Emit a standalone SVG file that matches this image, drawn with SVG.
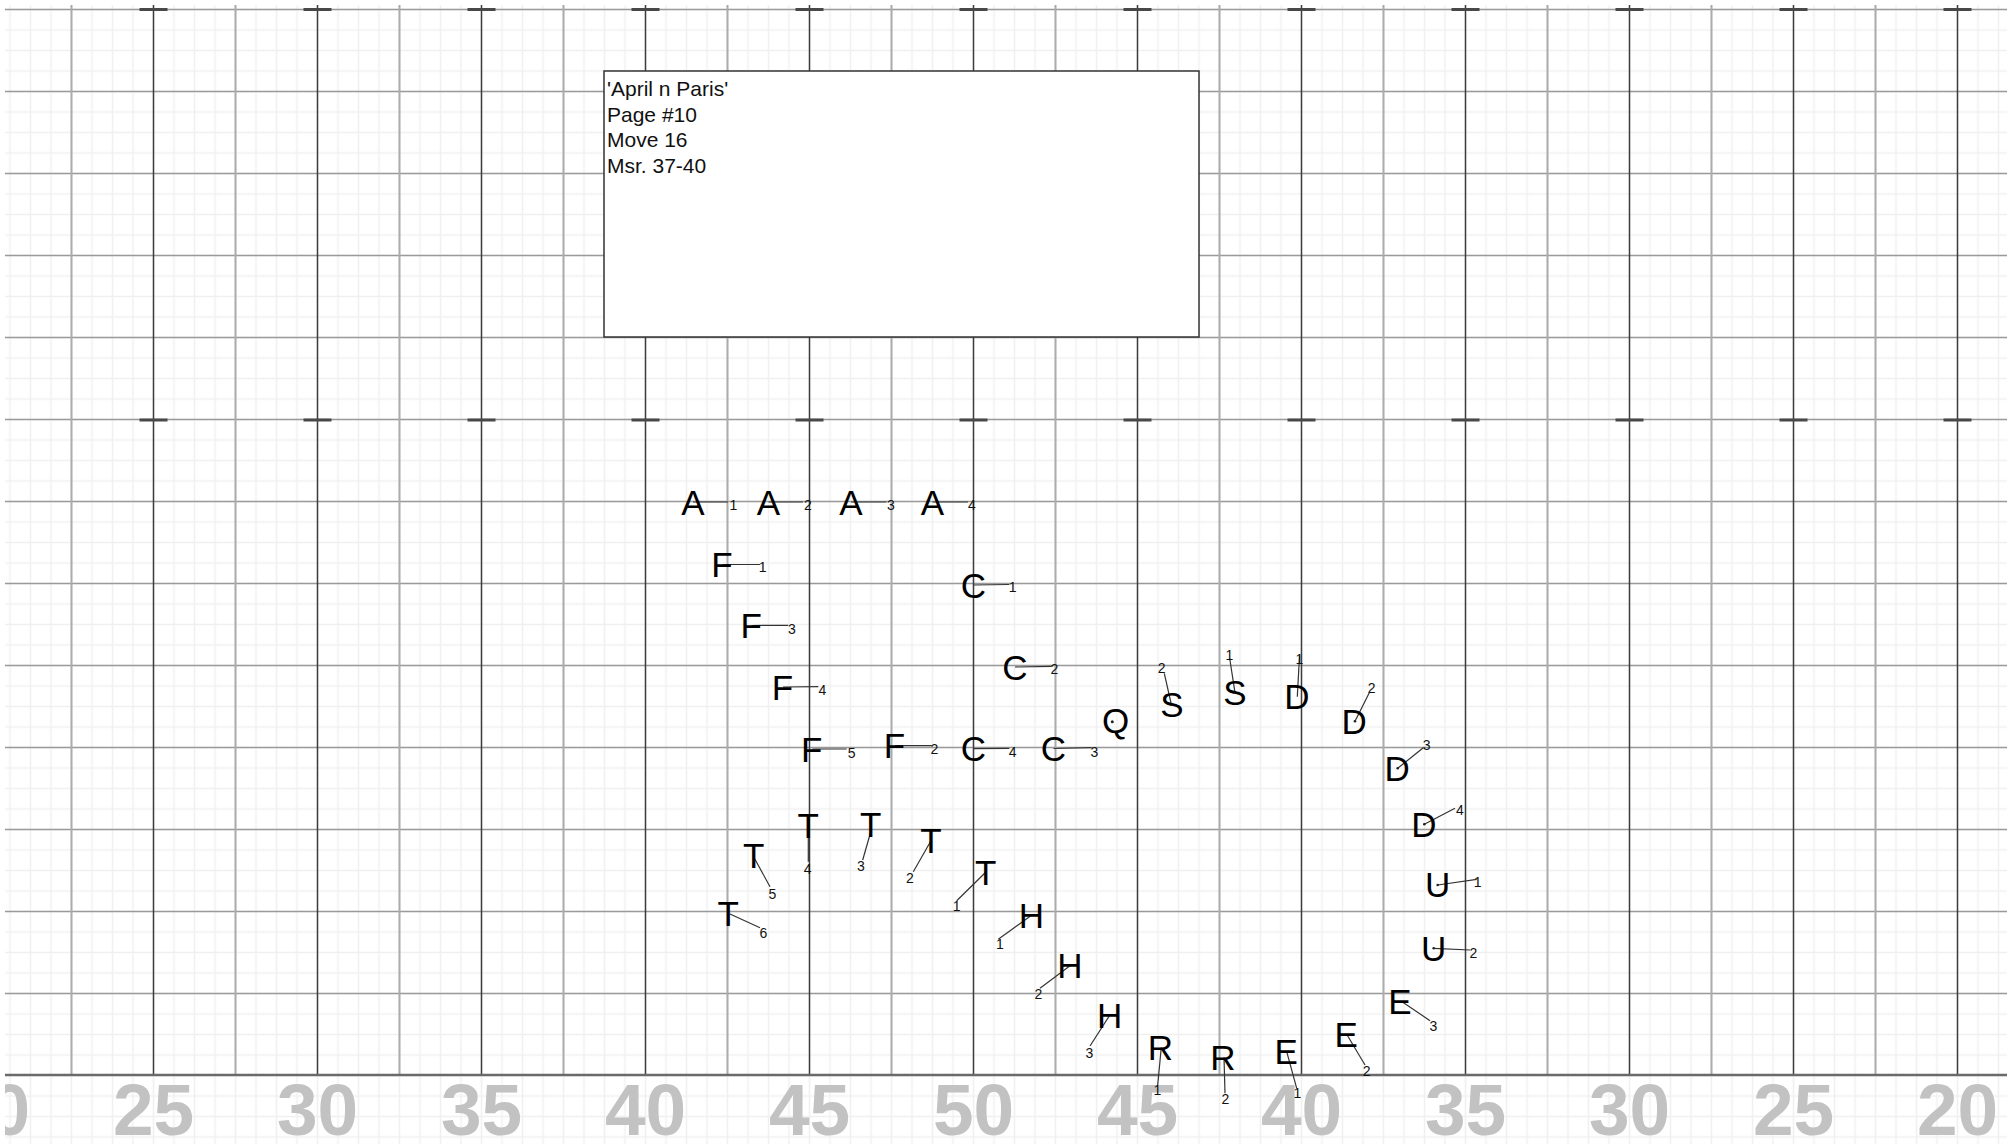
<svg xmlns="http://www.w3.org/2000/svg" width="2007" height="1144" viewBox="0 0 2007 1144">
<defs>
<style>
.minor{stroke:#f0f0f0;stroke-width:1.5;fill:none}
.hline{stroke:#9a9a9a;stroke-width:1.5}
.vlight{stroke:#ababab;stroke-width:2}
.vdark{stroke:#3c3c3c;stroke-width:1.5}
.hash{stroke:#484848;stroke-width:3}
.yard{font-family:"Liberation Sans",Arial,sans-serif;font-weight:bold;font-size:73px;fill:#c2c2c2;text-anchor:middle}
.note{font-family:"Liberation Sans",Arial,sans-serif;font-size:21px;fill:#111}
.let{font-family:"Liberation Sans",Arial,sans-serif;font-size:35px;fill:#000;text-anchor:middle}
.num{font-family:"Liberation Sans",Arial,sans-serif;font-size:14px;fill:#111;text-anchor:middle}
.lead{stroke:#333;stroke-width:1.2;fill:none}
.dot{fill:#222}
</style>
<pattern id="minorGrid" x="-0.25" y="-0.75" width="20.5" height="20.5" patternUnits="userSpaceOnUse">
<path class="minor" d="M10.25,0 V20.5 M0,10.25 H20.5"/>
</pattern>
<clipPath id="field"><rect x="5" y="5" width="2002" height="1139"/></clipPath>
</defs>
<rect x="0" y="0" width="2007" height="1144" fill="#fff"/>
<g id="field-grid" clip-path="url(#field)">
<rect x="5" y="5" width="2002" height="1139" fill="url(#minorGrid)"/>
<g class="hline">
<line x1="5" y1="9.5" x2="2007" y2="9.5"/>
<line x1="5" y1="91.5" x2="2007" y2="91.5"/>
<line x1="5" y1="173.5" x2="2007" y2="173.5"/>
<line x1="5" y1="255.5" x2="2007" y2="255.5"/>
<line x1="5" y1="337.5" x2="2007" y2="337.5"/>
<line x1="5" y1="419.5" x2="2007" y2="419.5"/>
<line x1="5" y1="501.5" x2="2007" y2="501.5"/>
<line x1="5" y1="583.5" x2="2007" y2="583.5"/>
<line x1="5" y1="665.5" x2="2007" y2="665.5"/>
<line x1="5" y1="747.5" x2="2007" y2="747.5"/>
<line x1="5" y1="829.5" x2="2007" y2="829.5"/>
<line x1="5" y1="911.5" x2="2007" y2="911.5"/>
<line x1="5" y1="993.5" x2="2007" y2="993.5"/>
</g>
<g class="vlight">
<line x1="71.5" y1="5" x2="71.5" y2="1075"/>
<line x1="235.5" y1="5" x2="235.5" y2="1075"/>
<line x1="399.5" y1="5" x2="399.5" y2="1075"/>
<line x1="563.5" y1="5" x2="563.5" y2="1075"/>
<line x1="727.5" y1="5" x2="727.5" y2="1075"/>
<line x1="891.5" y1="5" x2="891.5" y2="1075"/>
<line x1="1055.5" y1="5" x2="1055.5" y2="1075"/>
<line x1="1219.5" y1="5" x2="1219.5" y2="1075"/>
<line x1="1383.5" y1="5" x2="1383.5" y2="1075"/>
<line x1="1547.5" y1="5" x2="1547.5" y2="1075"/>
<line x1="1711.5" y1="5" x2="1711.5" y2="1075"/>
<line x1="1875.5" y1="5" x2="1875.5" y2="1075"/>
</g>
<g class="vdark">
<line x1="153.5" y1="5" x2="153.5" y2="1075"/>
<line x1="317.5" y1="5" x2="317.5" y2="1075"/>
<line x1="481.5" y1="5" x2="481.5" y2="1075"/>
<line x1="645.5" y1="5" x2="645.5" y2="1075"/>
<line x1="809.5" y1="5" x2="809.5" y2="1075"/>
<line x1="973.5" y1="5" x2="973.5" y2="1075"/>
<line x1="1137.5" y1="5" x2="1137.5" y2="1075"/>
<line x1="1301.5" y1="5" x2="1301.5" y2="1075"/>
<line x1="1465.5" y1="5" x2="1465.5" y2="1075"/>
<line x1="1629.5" y1="5" x2="1629.5" y2="1075"/>
<line x1="1793.5" y1="5" x2="1793.5" y2="1075"/>
<line x1="1957.5" y1="5" x2="1957.5" y2="1075"/>
</g>
<path class="hash" d="M139.5,9.5h28M303.5,9.5h28M467.5,9.5h28M631.5,9.5h28M795.5,9.5h28M959.5,9.5h28M1123.5,9.5h28M1287.5,9.5h28M1451.5,9.5h28M1615.5,9.5h28M1779.5,9.5h28M1943.5,9.5h28M139.5,420h28M303.5,420h28M467.5,420h28M631.5,420h28M795.5,420h28M959.5,420h28M1123.5,420h28M1287.5,420h28M1451.5,420h28M1615.5,420h28M1779.5,420h28M1943.5,420h28"/>
<line x1="5" y1="1075" x2="2007" y2="1075" stroke="#6a6a6a" stroke-width="2.5"/>
<g class="yard">
<text x="-10.5" y="1135">20</text>
<text x="153.5" y="1135">25</text>
<text x="317.5" y="1135">30</text>
<text x="481.5" y="1135">35</text>
<text x="645.5" y="1135">40</text>
<text x="809.5" y="1135">45</text>
<text x="973.5" y="1135">50</text>
<text x="1137.5" y="1135">45</text>
<text x="1301.5" y="1135">40</text>
<text x="1465.5" y="1135">35</text>
<text x="1629.5" y="1135">30</text>
<text x="1793.5" y="1135">25</text>
<text x="1957.5" y="1135">20</text>
</g>
</g>
<g id="note-box">
<rect x="604" y="71" width="595" height="266" fill="#fff" stroke="#333" stroke-width="1.5"/>
<text class="note" x="607" y="96">'April n Paris'</text>
<text class="note" x="607" y="121.5">Page #10</text>
<text class="note" x="607" y="147">Move 16</text>
<text class="note" x="607" y="172.5">Msr. 37-40</text>
</g>
<g id="connectors" class="lead">
<line x1="693" y1="502" x2="728" y2="502"/>
<line x1="768.5" y1="502" x2="803" y2="502"/>
<line x1="851" y1="502" x2="886.5" y2="502"/>
<line x1="932.5" y1="502" x2="968" y2="502"/>
<line x1="722.5" y1="564.5" x2="760" y2="564.5"/>
<line x1="751.7" y1="625.5" x2="788.3" y2="625.3"/>
<line x1="783" y1="687" x2="818.3" y2="686.7"/>
<line x1="812.3" y1="749" x2="846.7" y2="749"/>
<line x1="895" y1="745.7" x2="931.7" y2="745.7"/>
<line x1="973.3" y1="585" x2="1009.3" y2="584.5"/>
<line x1="1015" y1="667" x2="1051.7" y2="666.3"/>
<line x1="973.3" y1="748.7" x2="1009.3" y2="748.3"/>
<line x1="1053.5" y1="748.5" x2="1091.7" y2="747.7"/>
<line x1="1171" y1="703" x2="1164.3" y2="673.3"/>
<line x1="1235" y1="692.7" x2="1229.7" y2="658.5"/>
<line x1="1297.3" y1="696.7" x2="1299.5" y2="656"/>
<line x1="1355" y1="721.3" x2="1369.3" y2="692.7"/>
<line x1="1397.7" y1="768.3" x2="1423.3" y2="747.7"/>
<line x1="1424.3" y1="824.3" x2="1455" y2="808.3"/>
<line x1="1437.7" y1="885" x2="1476.7" y2="879.3"/>
<line x1="1433.7" y1="948.3" x2="1470" y2="950"/>
<line x1="1401" y1="1001" x2="1430" y2="1020.7"/>
<line x1="1346.7" y1="1034.3" x2="1365" y2="1065"/>
<line x1="1286.7" y1="1051.7" x2="1296.7" y2="1088.3"/>
<line x1="1224" y1="1057.3" x2="1225" y2="1093.3"/>
<line x1="1161.3" y1="1047.3" x2="1157.7" y2="1085"/>
<line x1="1109.7" y1="1015.3" x2="1090" y2="1046"/>
<line x1="1070" y1="965.7" x2="1040" y2="988.3"/>
<line x1="1031.5" y1="915.3" x2="998.3" y2="939.3"/>
<line x1="985.7" y1="872.3" x2="956.7" y2="900.7"/>
<line x1="931" y1="840.7" x2="913.3" y2="871.7"/>
<line x1="870.7" y1="832" x2="862.7" y2="860"/>
<line x1="808.3" y1="825.7" x2="808.3" y2="861.7"/>
<line x1="753.7" y1="857" x2="770" y2="886.7"/>
<line x1="730" y1="914" x2="760" y2="927.7"/>
</g>
<g id="performers">
<g id="A1"><text class="let" x="693" y="514.5">A</text><text class="num" x="733.5" y="509.5">1</text></g>
<g id="A2"><text class="let" x="768.5" y="514.5">A</text><text class="num" x="808" y="509.5">2</text></g>
<g id="A3"><text class="let" x="851" y="514.5">A</text><text class="num" x="891" y="509.5">3</text></g>
<g id="A4"><text class="let" x="932.5" y="514.5">A</text><text class="num" x="972" y="509.5">4</text></g>
<g id="F1"><text class="let" x="722" y="577">F</text><text class="num" x="762.7" y="572.3">1</text></g>
<g id="F3"><text class="let" x="751.2" y="638">F</text><text class="num" x="792" y="634.3">3</text></g>
<g id="F4"><text class="let" x="782.5" y="699.8">F</text><text class="num" x="822.3" y="695">4</text></g>
<g id="F5"><text class="let" x="811.8" y="761.5">F</text><text class="num" x="851.7" y="757.7">5</text></g>
<g id="F2"><text class="let" x="894.5" y="758.2">F</text><text class="num" x="934.5" y="754">2</text></g>
<g id="C1"><text class="let" x="973.3" y="597.5">C</text><text class="num" x="1012.7" y="592.3">1</text></g>
<g id="C2"><text class="let" x="1015" y="679.8">C</text><text class="num" x="1054.3" y="674.3">2</text></g>
<g id="C4"><text class="let" x="973.3" y="760.9">C</text><text class="num" x="1012.7" y="756.7">4</text></g>
<g id="C3"><text class="let" x="1053.5" y="760.7">C</text><text class="num" x="1094.3" y="756.7">3</text></g>
<g id="Q"><text class="let" x="1115.5" y="733">Q</text><circle class="dot" cx="1112.3" cy="721.7" r="1.5"/></g>
<g id="S2"><text class="let" x="1172" y="716.5">S</text><text class="num" x="1161.7" y="672.7">2</text></g>
<g id="S1"><text class="let" x="1235" y="705">S</text><text class="num" x="1229.3" y="659.5">1</text></g>
<g id="D1"><text class="let" x="1297" y="709.2">D</text><text class="num" x="1299.3" y="664">1</text></g>
<g id="D2"><text class="let" x="1354.2" y="734.2">D</text><circle class="dot" cx="1355" cy="721.3" r="1.3"/><text class="num" x="1371.7" y="693.3">2</text></g>
<g id="D3"><text class="let" x="1397.2" y="780.8">D</text><circle class="dot" cx="1397.7" cy="768.3" r="1.3"/><text class="num" x="1426.7" y="750">3</text></g>
<g id="D4"><text class="let" x="1423.8" y="836.8">D</text><circle class="dot" cx="1424.3" cy="824.3" r="1.3"/><text class="num" x="1460" y="815">4</text></g>
<g id="U1"><text class="let" x="1437.7" y="897">U</text><circle class="dot" cx="1437.7" cy="885" r="1.3"/><text class="num" x="1477.7" y="887.3">1</text></g>
<g id="U2"><text class="let" x="1433.7" y="960.5">U</text><circle class="dot" cx="1433.7" cy="948.3" r="1.3"/><text class="num" x="1473.3" y="958.3">2</text></g>
<g id="E3"><text class="let" x="1400" y="1013.5">E</text><text class="num" x="1433.3" y="1031">3</text></g>
<g id="E2"><text class="let" x="1346.3" y="1046.8">E</text><text class="num" x="1366.7" y="1075.7">2</text></g>
<g id="E1"><text class="let" x="1286.3" y="1064.2">E</text><text class="num" x="1297.3" y="1097.7">1</text></g>
<g id="R2"><text class="let" x="1223" y="1069.8">R</text><text class="num" x="1225.3" y="1104.3">2</text></g>
<g id="R1"><text class="let" x="1160.3" y="1059.8">R</text><text class="num" x="1157.3" y="1095">1</text></g>
<g id="H3"><text class="let" x="1109.7" y="1028">H</text><text class="num" x="1089.3" y="1057.7">3</text></g>
<g id="H2"><text class="let" x="1070" y="978.2">H</text><text class="num" x="1038.3" y="999">2</text></g>
<g id="H1"><text class="let" x="1031.5" y="928">H</text><text class="num" x="1000" y="949">1</text></g>
<g id="T1"><text class="let" x="985.7" y="885">T</text><text class="num" x="956.7" y="910.7">1</text></g>
<g id="T2"><text class="let" x="931" y="853.3">T</text><text class="num" x="910" y="882.7">2</text></g>
<g id="T3"><text class="let" x="870.7" y="837.3">T</text><text class="num" x="861" y="871">3</text></g>
<g id="T4"><text class="let" x="808.3" y="838.3">T</text><text class="num" x="807.7" y="873.7">4</text></g>
<g id="T5"><text class="let" x="753.7" y="867.5">T</text><text class="num" x="772.3" y="899">5</text></g>
<g id="T6"><text class="let" x="728.3" y="925.8">T</text><text class="num" x="763.3" y="938.3">6</text></g>
</g>
</svg>
